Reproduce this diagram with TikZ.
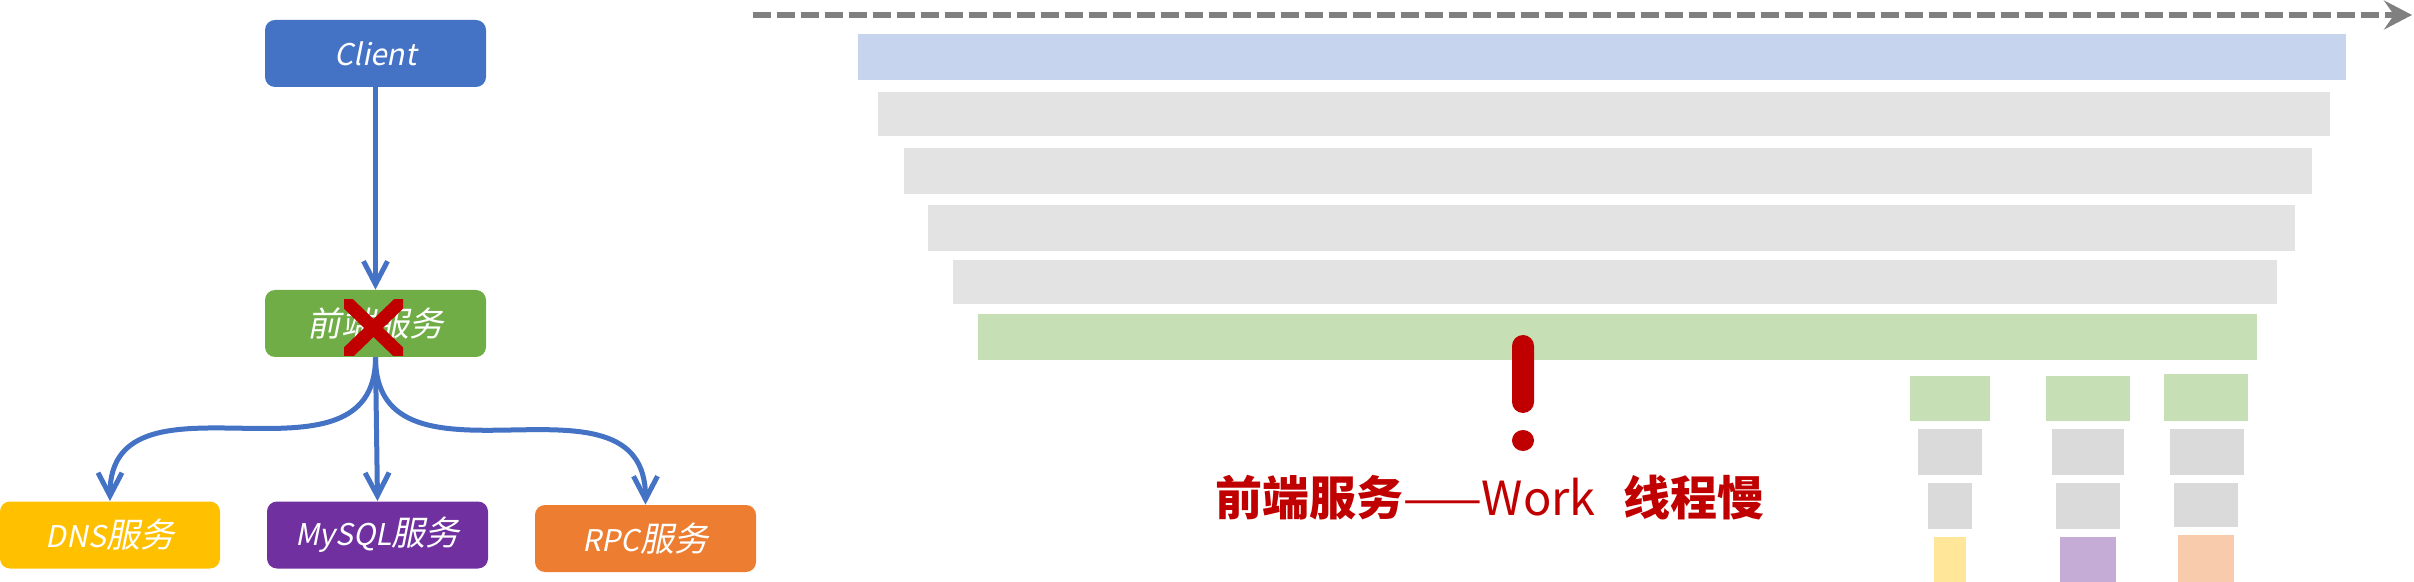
\documentclass[tikz,border=0pt]{standalone}
\usepackage{fontspec}
\setmainfont{Noto Sans CJK SC}
\newfontfamily\cjkit[FakeSlant=0.2]{Noto Sans CJK SC}
\newfontfamily\latit[FakeSlant=0.2,Scale=0.88]{Noto Sans CJK SC}
\usetikzlibrary{arrows.meta}
\definecolor{clientblue}{HTML}{4472C4}
\definecolor{frontgreen}{HTML}{70AD47}
\definecolor{dnsyellow}{HTML}{FFC000}
\definecolor{sqlpurple}{HTML}{7030A0}
\definecolor{rpcorange}{HTML}{ED7D31}
\definecolor{alertred}{HTML}{C00000}
\definecolor{axisgray}{HTML}{808080}
\definecolor{barblue}{HTML}{C6D4EE}
\definecolor{bargray}{HTML}{E3E3E3}
\definecolor{bargreen}{HTML}{C6DFB5}
\definecolor{cellgray}{HTML}{DADADA}
\definecolor{cellyellow}{HTML}{FFE699}
\definecolor{cellpurple}{HTML}{C5ACD7}
\definecolor{cellorange}{HTML}{F8CBAD}
\tikzset{
    service/.style={rounded corners=5pt, inner sep=0pt, minimum width=110.5pt,
        minimum height=33.5pt, text=white, font=\cjkit\fontsize{17}{20}\selectfont},
    call/.style={draw=clientblue, line width=2.5pt,
        -{Straight Barb[length=11.5pt,width=12pt]}},
    timeline/.style={draw=axisgray, line width=3pt, dash pattern=on 9pt off 3pt,
        -{Stealth[length=14pt,width=14.5pt,inset=5pt]}},
    crossmark/.style={draw=alertred, line width=6.5pt},
}

\begin{document}
\begin{tikzpicture}[x=0.5pt, y=-0.5pt]
	\useasboundingbox (0,0) rectangle (2414,582);
	% call chain
	\node[service, fill=clientblue] (client) at (375.5,53.5) {\latit Client};
	\node[service, fill=frontgreen] (front) at (375.5,323.5) {前端服务};
	\node[service, fill=dnsyellow, minimum width=110pt] (dns) at (110,535) {{\latit DNS}服务};
	\node[service, fill=sqlpurple] (mysql) at (377.5,535) {{\latit MySQL}服务};
	\node[service, fill=rpcorange] (rpc) at (645.5,538.5) {{\latit RPC}服务};
	\draw[call] (client.south) -- (front.north);
	\draw[call] (front.south) .. controls +(0,144) and +(0,-144) .. (dns.north);
	\draw[call] (front.south) -- (mysql.north);
	\draw[call] (front.south) .. controls +(0,148) and +(0,-148) .. (rpc.north);
\begin{scope}
	\clip (344,300) rectangle (403,356);
	\draw[crossmark] (334,290) -- (413,366);
	\draw[crossmark] (413,290) -- (334,366);
\end{scope}
	% thread timeline
	\coordinate (tstart) at (753,15);
	\coordinate (tend) at (2412,15);
	\draw[timeline] (tstart) -- (tend);
	\fill[barblue] (858,34) rectangle (2346,80);
	\fill[bargray] (878,92) rectangle (2330,136);
	\fill[bargray] (904,148) rectangle (2312,194);
	\fill[bargray] (928,205) rectangle (2295,251);
	\fill[bargray] (953,260) rectangle (2277,304);
	\fill[bargreen] (978,314) rectangle (2257,360);
	% worker columns
	\fill[bargreen] (1910,376) rectangle (1990,421);
	\fill[cellgray] (1918,429) rectangle (1982,475);
	\fill[cellgray] (1928,483) rectangle (1972,529);
	\fill[cellyellow] (1934,537) rectangle (1966,582);
	\fill[bargreen] (2046,376) rectangle (2130,421);
	\fill[cellgray] (2052,429) rectangle (2124,475);
	\fill[cellgray] (2056,483) rectangle (2120,529);
	\fill[cellpurple] (2060,537) rectangle (2116,582);
	\fill[bargreen] (2164,374) rectangle (2248,421);
	\fill[cellgray] (2170,429) rectangle (2244,475);
	\fill[cellgray] (2174,483) rectangle (2238,527);
	\fill[cellorange] (2178,535) rectangle (2234,582);
	% alert
	\fill[alertred, rounded corners=5.5pt] (1512,335) rectangle (1534,413);
	\fill[alertred] (1523,440.5) ellipse [x radius=11, y radius=10.5];
	\node[anchor=base, text=alertred, font=\fontsize{23.5}{28}\selectfont] (slow)
		at (1490,515) {{\bfseries 前端服务}——Work\hspace{0.6em}{\bfseries 线程慢}};
\end{tikzpicture}
\end{document}
